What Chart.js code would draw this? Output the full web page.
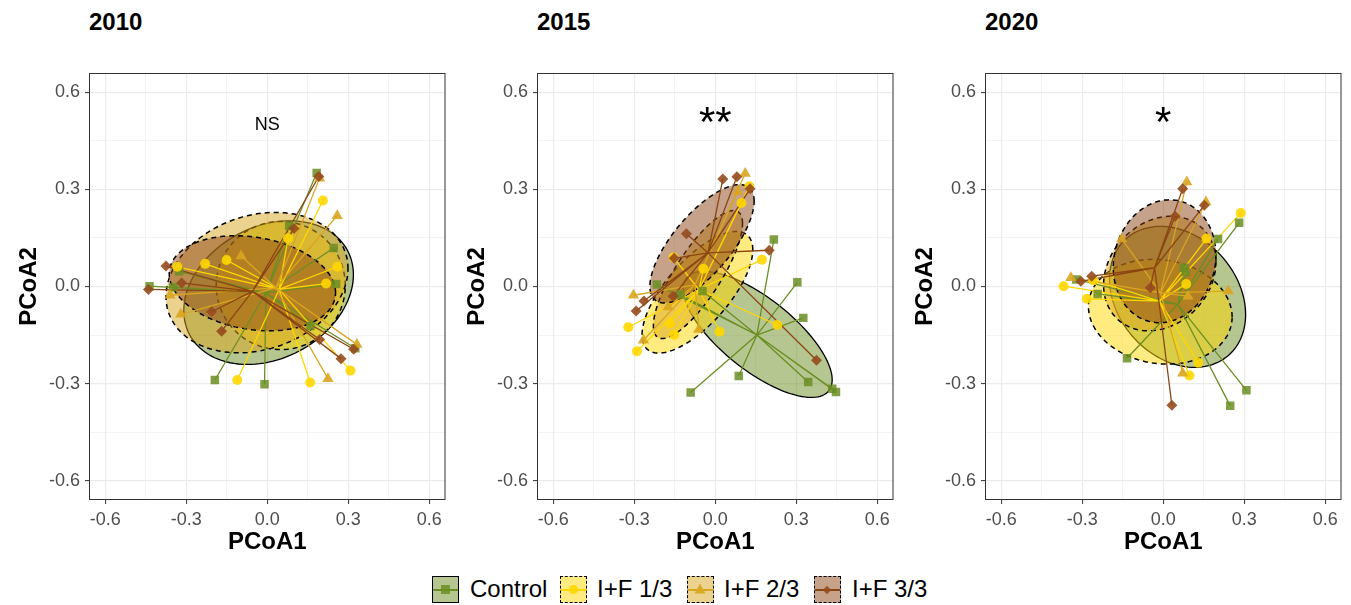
<!DOCTYPE html>
<html>
<head>
<meta charset="utf-8">
<script src="https://cdn.jsdelivr.net/npm/chart.js@4.4.0/dist/chart.umd.min.js"></script>
<style>
body { margin: 0; background: #fff; font-family: "Liberation Sans", Arial, sans-serif; }
#wrap { position: relative; width: 1351px; height: 605px; overflow: hidden; }
.panel { position: absolute; top: 0; }
.ptitle { position: absolute; top: 8px; font-weight: bold; font-size: 24px; line-height: 28px; color: #000; }
.key { position: absolute; top: 576px; width: 27px; height: 27px; box-sizing: border-box; }
.key .ln { position: absolute; left: 0; right: 0; top: 12px; height: 1.5px; }
.key .mk { position: absolute; }
.ktext { position: absolute; top: 575px; font-size: 24px; line-height: 28px; color: #000; white-space: nowrap; }
</style>
</head>
<body>
<div id="wrap">
  <div class="ptitle" style="left:89px">2010</div>
  <div class="ptitle" style="left:537px">2015</div>
  <div class="ptitle" style="left:985px">2020</div>
  <canvas id="c0" class="panel" width="452" height="560" style="left:0px"></canvas>
  <canvas id="c1" class="panel" width="452" height="560" style="left:448px"></canvas>
  <canvas id="c2" class="panel" width="452" height="560" style="left:896px"></canvas>
  <div id="legend"></div>
</div>
<script>
// ---- data ----
const years = ['2010', '2015', '2020'];
const groups = ['Control', 'I+F 1/3', 'I+F 2/3', 'I+F 3/3'];
const signif = ['NS', '**', '*'];
const majorTicks = [-0.6, -0.3, 0, 0.3, 0.6];
const tickLabels = ['-0.6', '-0.3', '0.0', '0.3', '0.6'];
const minorTicks = [-0.45, -0.15, 0.15, 0.45];
const axisRange = [-0.66, 0.66];

// 2010
const ctrl2010 = [[0.183,0.351],[0.081,0.188],[0.246,0.119],[0.255,0.008],[-0.436,0.001],[-0.348,-0.002],[-0.326,0.047],[0.16,-0.122],[0.326,-0.191],[-0.194,-0.289],[-0.01,-0.302]];
const if13_2010 = [[0.206,0.266],[0.077,0.149],[-0.23,0.07],[-0.151,0.082],[-0.333,0.061],[0.26,0.061],[0.218,0.009],[0.308,-0.26],[-0.111,-0.289],[0.159,-0.297]];
const if23_2010 = [[0.194,0.335],[0.259,0.219],[-0.097,0.094],[-0.36,-0.027],[-0.32,-0.086],[0.332,-0.179],[0.225,-0.285]];
const if33_2010 = [[0.191,0.34],[0.099,0.179],[-0.375,0.063],[-0.317,0.011],[-0.44,-0.009],[-0.206,-0.078],[-0.169,-0.138],[0.194,-0.164],[0.32,-0.194],[0.273,-0.223]];
const cent2010 = [[-0.005,-0.02],[0.044,-0.009],[0.032,-0.004],[-0.055,-0.015]];
// ellipse: centre x, centre y, half width, half height, tilt
const ell2010 = [[0.005,-0.019,0.314,0.222,0.25],[0.05,0.003,0.239,0.198,0.0],[-0.038,0.012,0.337,0.217,0.2],[-0.055,0.01,0.308,0.147,-0.2]];

// 2015
const ctrl2015 = [[0.217,0.145],[0.304,0.013],[0.326,-0.097],[-0.216,0.006],[-0.129,-0.025],[-0.047,-0.014],[0.087,-0.277],[0.344,-0.295],[0.433,-0.316],[0.447,-0.326],[-0.091,-0.328]];
const if13_2015 = [[0.126,0.31],[0.097,0.258],[0.173,0.083],[-0.044,0.055],[0.23,-0.119],[0.016,-0.14],[-0.168,-0.114],[-0.152,-0.149],[-0.322,-0.126],[-0.29,-0.2],[-0.155,0.09]];
const if23_2015 = [[0.111,0.349],[0.083,0.294],[-0.303,-0.027],[-0.266,-0.166],[-0.061,-0.133],[-0.174,-0.063]];
const if33_2015 = [[0.028,0.332],[0.08,0.339],[0.129,0.302],[-0.107,0.163],[0.2,0.112],[-0.152,0.087],[-0.156,-0.03],[-0.264,-0.045],[-0.293,-0.076],[0.375,-0.228]];
const cent2015 = [[0.154,-0.15],[-0.06,-0.01],[-0.075,0.005],[-0.027,0.104]];
const ell2015 = [[0.157,-0.148,0.276,0.195,-0.72],[-0.066,-0.018,0.205,0.188,0.7],[-0.064,0.037,0.165,0.198,0.8],[-0.049,0.132,0.193,0.183,0.72]];

// 2020
const ctrl2020 = [[0.281,0.197],[0.203,0.147],[0.076,0.058],[0.083,0.045],[-0.322,0.022],[-0.243,-0.023],[-0.134,-0.222],[0.308,-0.321],[0.248,-0.369]];
const if13_2020 = [[0.287,0.227],[0.16,0.148],[0.085,0.008],[-0.369,0.001],[-0.283,-0.038],[-0.259,0.019],[0.13,-0.236],[0.097,-0.275]];
const if23_2020 = [[0.087,0.323],[0.158,0.261],[-0.154,0.147],[-0.342,0.027],[0.241,-0.014],[0.091,-0.03],[0.072,-0.268]];
const if33_2020 = [[0.072,0.302],[0.152,0.251],[0.044,0.217],[-0.265,0.032],[-0.305,0.016],[-0.048,-0.004],[0.032,-0.367]];
const cent2020 = [[0.054,-0.055],[-0.014,-0.045],[-0.01,-0.02],[-0.032,0.058]];
const ell2020 = [[0.053,-0.032,0.252,0.218,-0.25],[-0.011,-0.078,0.266,0.162,-0.1],[-0.013,0.04,0.208,0.177,0.2],[0.005,0.078,0.19,0.19,0.1]];

const panels = [
    { pts: [ctrl2010, if13_2010, if23_2010, if33_2010], cent: cent2010, ell: ell2010 },
    { pts: [ctrl2015, if13_2015, if23_2015, if33_2015], cent: cent2015, ell: ell2015 },
    { pts: [ctrl2020, if13_2020, if23_2020, if33_2020], cent: cent2020, ell: ell2020 }
];

// ---- styles ----
const FONT = '"Liberation Sans", Arial, sans-serif';
const lineColors = ['#6B8E23', '#FFD700', '#DAA520', '#8B4513'];
const pointColors = ['rgba(107,142,35,0.85)', 'rgba(255,215,0,0.9)', 'rgba(218,165,32,0.9)', 'rgba(150,75,30,0.9)'];
const fillColors = ['rgba(107,142,35,0.5)', 'rgba(255,215,0,0.5)', 'rgba(218,165,32,0.5)', 'rgba(139,69,19,0.5)'];
const pointStyles = ['rect', 'circle', 'triangle', 'rectRot'];
const pointRadii = [6, 5, 6.5, 5.5];
const dashes = [[], [5, 4], [5, 4], [5, 4]];

const isMajor = v => majorTicks.some(t => Math.abs(t - v) < 1e-9);

let ellipsePlugin = {
    id: 'ellipses',
    beforeDatasetsDraw(chart) {
        const { ctx, chartArea } = chart;
        const x = chart.scales.x, y = chart.scales.y;
        const list = chart.options.plugins.ellipses.list;
        ctx.save();
        ctx.beginPath();
        ctx.rect(chartArea.left, chartArea.top, chartArea.width, chartArea.height);
        ctx.clip();
        list.forEach(function (e, g) {
            const [cx, cy, a, b, r] = e;
            const s = Math.sqrt(1 - r * r);
            ctx.beginPath();
            for (let i = 0; i <= 120; i++) {
                const t = i / 120 * 2 * Math.PI;
                const px = x.getPixelForValue(cx + a * Math.cos(t));
                const py = y.getPixelForValue(cy + b * (r * Math.cos(t) + s * Math.sin(t)));
                if (i === 0) ctx.moveTo(px, py); else ctx.lineTo(px, py);
            }
            ctx.closePath();
            ctx.fillStyle = fillColors[g];
            ctx.fill();
            ctx.setLineDash(dashes[g]);
            ctx.lineWidth = g === 0 ? 1.3 : 1.5;
            ctx.strokeStyle = '#000';
            ctx.stroke();
        });
        ctx.restore();
    }
};

let framePlugin = {
    id: 'frame',
    afterDraw(chart) {
        const { ctx, chartArea } = chart;
        const opts = chart.options.plugins.frame;
        ctx.save();
        ctx.strokeStyle = '#333';
        ctx.lineWidth = 1;
        ctx.strokeRect(chartArea.left + 0.5, chartArea.top + 0.5, chartArea.width - 1, chartArea.height - 1);
        const tx = chart.scales.x.getPixelForValue(0);
        const ty = chart.scales.y.getPixelForValue(0.5);
        ctx.fillStyle = '#000';
        ctx.textAlign = 'center';
        ctx.textBaseline = 'middle';
        ctx.font = opts.text === 'NS' ? '18px ' + FONT : '42px ' + FONT;
        ctx.fillText(opts.text, tx, ty);
        ctx.restore();
    }
};

let axisOpts = function (title, pos) {
    return {
        type: 'linear',
        position: pos,
        min: axisRange[0],
        max: axisRange[1],
        afterBuildTicks: function (s) {
            s.ticks = majorTicks.concat(minorTicks).sort((a, b) => a - b).map(v => ({ value: v }));
        },
        afterFit: function (s) {
            if (pos === 'left') s.width = 89; else s.height = 60;
        },
        border: { display: false },
        grid: {
            color: '#EBEBEB',
            lineWidth: c => (c.tick && isMajor(c.tick.value)) ? 1.2 : 0.6,
            drawTicks: true,
            tickLength: 4,
            tickWidth: 1,
            tickColor: c => (c.tick && isMajor(c.tick.value)) ? '#333' : 'rgba(0,0,0,0)'
        },
        ticks: {
            autoSkip: false,
            maxRotation: 0,
            padding: 5,
            color: '#4D4D4D',
            font: { family: FONT, size: 18 },
            callback: function (v) {
                const i = majorTicks.findIndex(t => Math.abs(t - v) < 1e-9);
                return i >= 0 ? tickLabels[i] : '';
            }
        },
        title: {
            display: true,
            text: title,
            color: '#000',
            font: { family: FONT, size: 24, weight: 'bold' },
            padding: pos === 'left' ? { top: 15, bottom: 0 } : { top: 0, bottom: 3 }
        }
    };
};

let toXY = p => ({ x: p[0], y: p[1] });

panels.forEach(function (panel, k) {
    let datasets = [];
    panel.pts.forEach(function (pts, g) {
        const c = toXY(panel.cent[g]);
        let spokes = [];
        pts.forEach(function (p) { spokes.push(c, toXY(p)); });
        spokes.push(c);
        datasets.push({
            label: groups[g] + ' spokes',
            data: spokes,
            showLine: true,
            borderColor: lineColors[g],
            borderWidth: 1.3,
            pointRadius: 0,
            borderJoinStyle: 'bevel',
            order: 8 - g
        });
        datasets.push({
            label: groups[g],
            data: pts.map(toXY),
            pointStyle: pointStyles[g],
            pointRadius: pointRadii[g],
            backgroundColor: pointColors[g],
            borderWidth: 0,
            order: 4 - g
        });
    });

    new Chart(document.getElementById('c' + k).getContext('2d'), {
        type: 'scatter',
        data: { datasets: datasets },
        plugins: [ellipsePlugin, framePlugin],
        options: {
            responsive: false,
            animation: false,
            devicePixelRatio: 1,
            events: [],
            layout: { padding: { top: 73, right: 1, bottom: 0, left: 0 } },
            plugins: {
                legend: { display: false },
                tooltip: { enabled: false },
                ellipses: { list: panel.ell },
                frame: { text: signif[k] }
            },
            scales: {
                x: axisOpts('PCoA1', 'bottom'),
                y: axisOpts('PCoA2', 'left')
            }
        }
    });
});

// ---- legend ----
let keyLeft = [432, 560, 687, 814];
let textLeft = [470, 597, 724, 852];
let legend = document.getElementById('legend');
groups.forEach(function (name, g) {
    let key = document.createElement('div');
    key.className = 'key';
    key.style.left = keyLeft[g] + 'px';
    key.style.background = fillColors[g];
    key.style.border = g === 0 ? '1.3px solid #000' : '1.5px dashed #000';
    let ln = document.createElement('div');
    ln.className = 'ln';
    ln.style.background = lineColors[g];
    key.appendChild(ln);
    let mk = document.createElement('div');
    mk.className = 'mk';
    mk.style.background = pointColors[g];
    if (g === 0) { mk.style.cssText += 'width:9px;height:9px;left:7.5px;top:8px;'; }
    if (g === 1) { mk.style.cssText += 'width:9px;height:9px;left:7.5px;top:8px;border-radius:50%;'; }
    if (g === 2) { mk.style.cssText += 'width:11px;height:10px;left:6.5px;top:6.5px;clip-path:polygon(50% 0,100% 100%,0 100%);'; }
    if (g === 3) { mk.style.cssText += 'width:6px;height:6px;left:9px;top:9.5px;transform:rotate(45deg);'; }
    key.appendChild(mk);
    legend.appendChild(key);
    let txt = document.createElement('span');
    txt.className = 'ktext';
    txt.style.left = textLeft[g] + 'px';
    txt.textContent = name;
    legend.appendChild(txt);
});
</script>
</body>
</html>
